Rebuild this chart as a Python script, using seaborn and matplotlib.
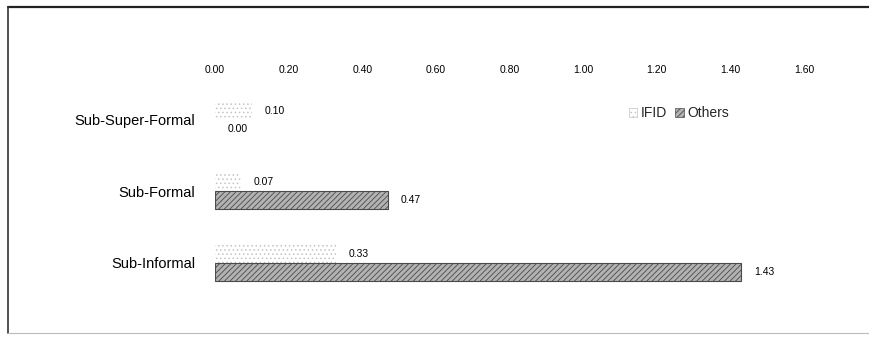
import matplotlib
matplotlib.use("Agg")
import matplotlib.pyplot as plt
from matplotlib.patches import Patch
from matplotlib.lines import Line2D
import seaborn as sns
import pandas as pd

# Ratios per sub-register
categories = ["Sub-Super-Formal", "Sub-Formal", "Sub-Informal"]
ifid_values = [0.10, 0.07, 0.33]
others_values = [0.00, 0.47, 1.43]
series_names = ["IFID", "Others"]
tick_values = [0.0, 0.2, 0.4, 0.6, 0.8, 1.0, 1.2, 1.4, 1.6]
tick_labels = ["0.00", "0.20", "0.40", "0.60", "0.80", "1.00", "1.20", "1.40", "1.60"]

df = pd.DataFrame({
    "category": categories * 2,
    "series": [series_names[0]] * 3 + [series_names[1]] * 3,
    "value": ifid_values + others_values,
})

sns.set_theme(style="white")
plt.rcParams["font.family"] = ["Liberation Sans", "DejaVu Sans"]
plt.rcParams["hatch.linewidth"] = 0.6

W, H = 869, 339
fig = plt.figure(figsize=(W / 100, H / 100), dpi=100)
ax = fig.add_axes([215 / W, 1 - 320 / H, (804 - 215) / W, (320 - 82) / H])

sns.barplot(data=df, y="category", x="value", hue="series", order=categories,
            hue_order=series_names, orient="h", width=0.5, gap=0,
            legend=False, ax=ax)

styles = {
    "IFID": dict(facecolor="white", edgecolor="#c4c4c4", hatch="....", linewidth=0.0),
    "Others": dict(facecolor="#b2b2b2", edgecolor="#4a4a4a", hatch="//////", linewidth=0.8),
}
for container, name in zip(ax.containers, series_names):
    for bar in container:
        bar.set(**styles[name])
        if bar.get_width() == 0:
            bar.set_linewidth(0)
    ax.bar_label(container, fmt="%.2f", padding=9, fontsize=7.5, color="#000000")

ax.set_xlim(0, 1.6)
ax.set_ylim(2.8, -0.53)
ax.xaxis.tick_top()
ax.set_xticks(tick_values)
ax.set_xticklabels(tick_labels)
ax.tick_params(axis="x", length=0, pad=5, labelsize=7.5, colors="#000000")
ax.tick_params(axis="y", length=0, pad=14, labelsize=10.5, colors="#000000")
ax.set_xlabel("")
ax.set_ylabel("")
for side in ax.spines.values():
    side.set_visible(False)

handles = [Patch(label=n, **{k: v for k, v in styles[n].items() if k != "linewidth"},
                 linewidth=0.5) for n in series_names]
fig.legend(handles=handles, loc="center left", bbox_to_anchor=(622 / W, 1 - 113 / H),
           ncol=2, frameon=False, fontsize=10, handlelength=0.6, handleheight=0.6,
           handletextpad=0.25, columnspacing=0.6, borderpad=0)

# Page frame around the chart
fig.add_artist(Line2D([8 / W, 1], [1 - 7 / H, 1 - 7 / H], transform=fig.transFigure,
                      color="#222222", linewidth=1.6))
fig.add_artist(Line2D([8 / W, 8 / W], [1 - 7 / H, 1 - 333 / H], transform=fig.transFigure,
                      color="#333333", linewidth=1.2))
fig.add_artist(Line2D([8 / W, 1], [1 - 333 / H, 1 - 333 / H], transform=fig.transFigure,
                      color="#bbbbbb", linewidth=0.8))

fig.savefig("out.png", dpi=100, facecolor="white")
